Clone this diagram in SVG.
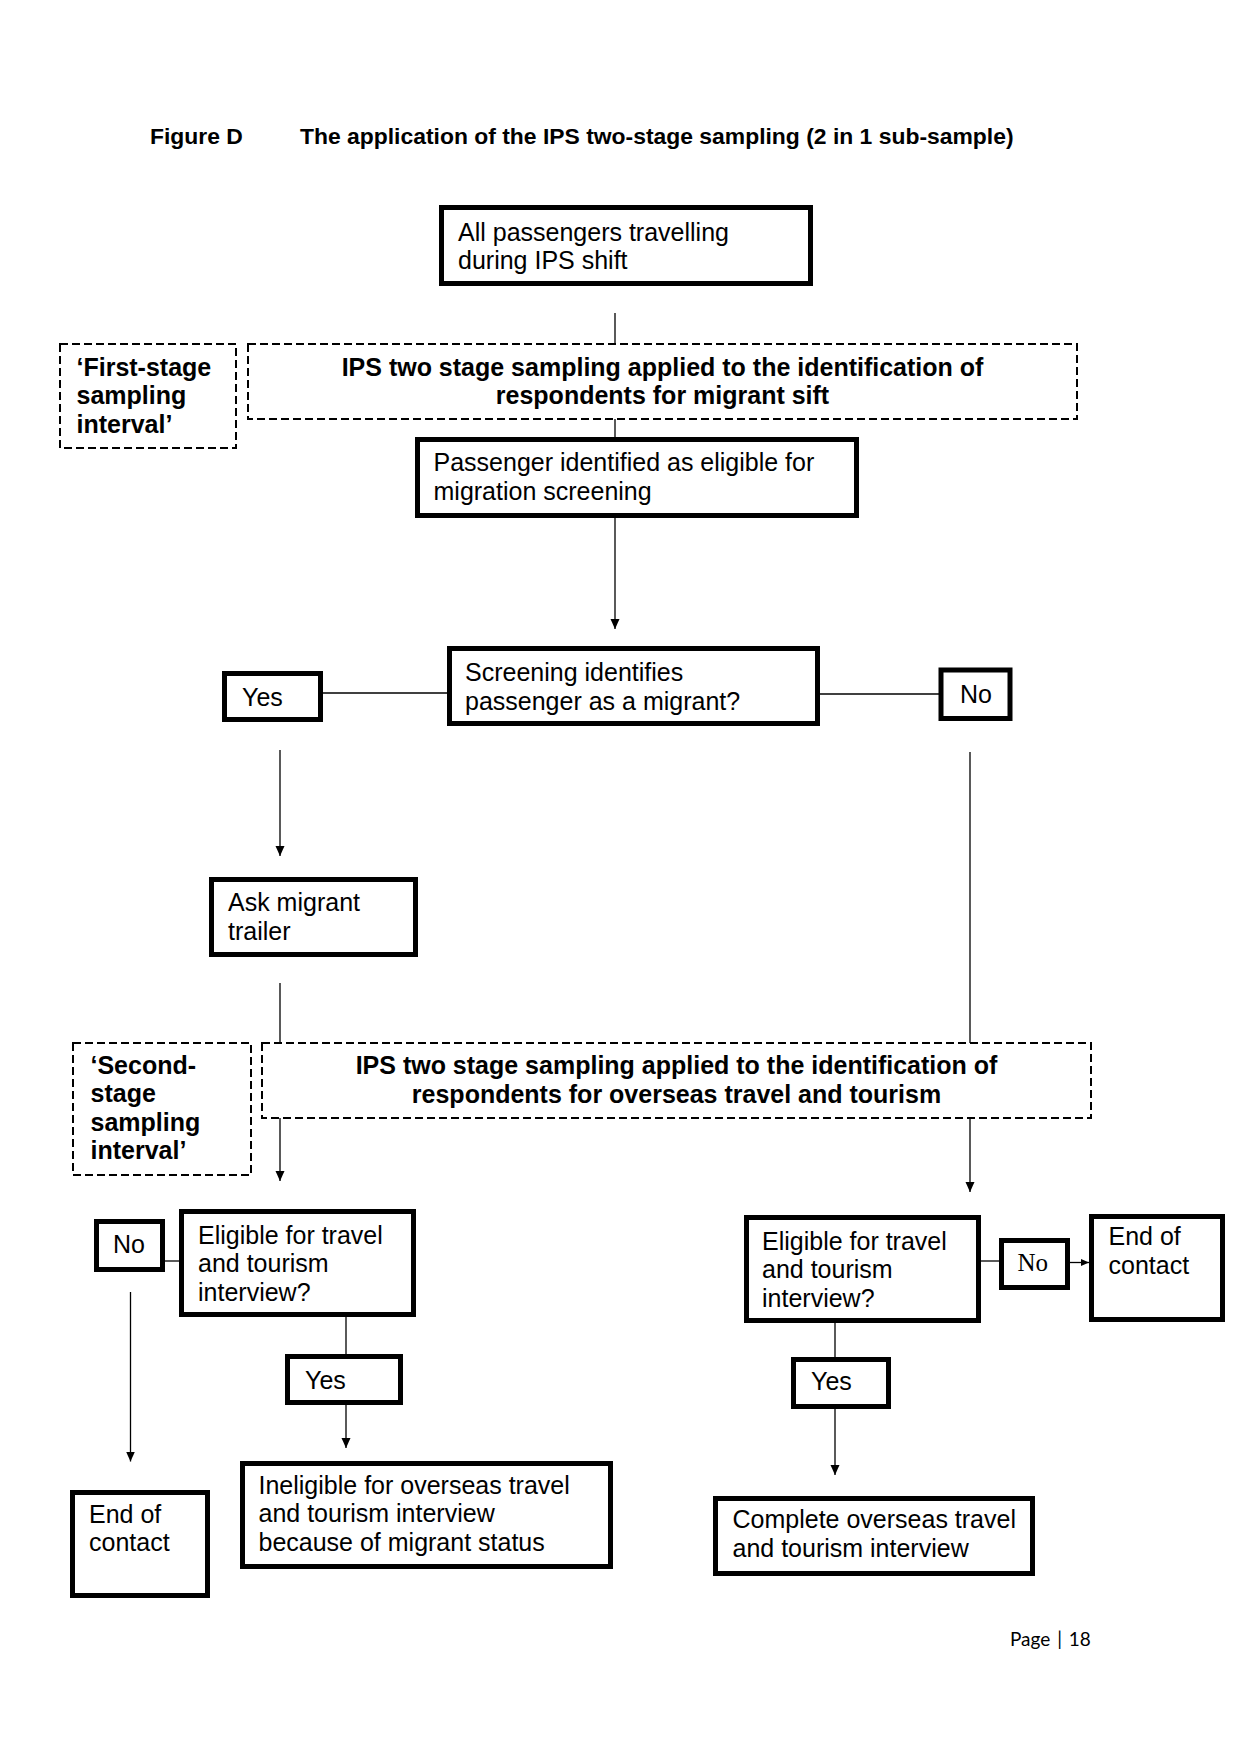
<svg xmlns="http://www.w3.org/2000/svg" width="1240" height="1755" viewBox="0 0 1240 1755">
<style>
.bx{fill:#fff;stroke:#000;stroke-width:5}
.ds{fill:none;stroke:#000;stroke-width:2;stroke-dasharray:8 4}
.t{font-family:"Liberation Sans",Arial,sans-serif;font-size:25px;fill:#000}
.b{font-family:"Liberation Sans",Arial,sans-serif;font-size:25px;font-weight:bold;fill:#000}
.c{stroke:#000;stroke-width:1.3;fill:none}
</style>
<defs>
<marker id="ah" markerUnits="userSpaceOnUse" markerWidth="10" markerHeight="10" refX="10" refY="5" orient="auto"><path d="M0,0.5 L10,5 L0,9.5 z" fill="#000"/></marker>
<marker id="ahs" markerUnits="userSpaceOnUse" markerWidth="8" markerHeight="8" refX="8" refY="4" orient="auto"><path d="M0,0.5 L8,4 L0,7.5 z" fill="#000"/></marker>
</defs>
<rect width="1240" height="1755" fill="#fff"/>
<g id="title">
<text x="150" y="144" style="font-family:'Liberation Sans',Arial,sans-serif;font-size:22.9px;font-weight:bold">Figure D</text>
<text x="300" y="144" style="font-family:'Liberation Sans',Arial,sans-serif;font-size:22.9px;font-weight:bold">The application of the IPS two-stage sampling (2 in 1 sub-sample)</text>
</g>
<g id="connectors">
<line class="c" x1="615" y1="313" x2="615" y2="344"/>
<line class="c" x1="615" y1="419" x2="615" y2="437"/>
<line class="c" x1="615" y1="518" x2="615" y2="629" marker-end="url(#ah)"/>
<line class="c" x1="323" y1="693" x2="447" y2="693"/>
<line class="c" x1="820" y1="694" x2="939" y2="694"/>
<line class="c" x1="280" y1="750" x2="280" y2="856" marker-end="url(#ah)"/>
<line class="c" x1="970" y1="752" x2="970" y2="1043"/>
<line class="c" x1="280" y1="983" x2="280" y2="1043"/>
<line class="c" x1="280" y1="1118" x2="280" y2="1181" marker-end="url(#ah)"/>
<line class="c" x1="970" y1="1118" x2="970" y2="1192" marker-end="url(#ah)"/>
<line class="c" x1="165" y1="1261" x2="179" y2="1261"/>
<line class="c" x1="130.5" y1="1292" x2="130.5" y2="1461.5" marker-end="url(#ah)"/>
<line class="c" x1="346" y1="1317" x2="346" y2="1354"/>
<line class="c" x1="346" y1="1405" x2="346" y2="1448" marker-end="url(#ah)"/>
<line class="c" x1="981" y1="1261" x2="999" y2="1261"/>
<line class="c" x1="1070" y1="1262.5" x2="1089" y2="1262.5" marker-end="url(#ahs)"/>
<line class="c" x1="835" y1="1323" x2="835" y2="1357"/>
<line class="c" x1="835" y1="1409" x2="835" y2="1475" marker-end="url(#ah)"/>
</g>
<g id="n-all">
<rect class="bx" x="441.5" y="207.5" width="369" height="76"/>
<text class="t" x="458" y="240.5">All passengers travelling</text>
<text class="t" x="458" y="269">during IPS shift</text>
</g>
<g id="n-first-stage">
<rect class="ds" x="60" y="344" width="176" height="104"/>
<text class="b" x="76.5" y="375.5">‘First-stage</text>
<text class="b" x="76.5" y="404">sampling</text>
<text class="b" x="76.5" y="432.5">interval’</text>
</g>
<g id="n-migrant-sift">
<rect class="ds" x="248" y="344" width="829" height="75"/>
<text class="b" x="662.5" y="375.5" text-anchor="middle">IPS two stage sampling applied to the identification of</text>
<text class="b" x="662.5" y="403.5" text-anchor="middle">respondents for migrant sift</text>
</g>
<g id="n-eligible-screening">
<rect class="bx" x="417.5" y="439.5" width="439" height="76"/>
<text class="t" x="433.5" y="470.5">Passenger identified as eligible for</text>
<text class="t" x="433.5" y="499.5">migration screening</text>
</g>
<g id="n-screening">
<rect class="bx" x="449.5" y="648.5" width="368" height="75"/>
<text class="t" x="465" y="680.5">Screening identifies</text>
<text class="t" x="465" y="709.5">passenger as a migrant?</text>
</g>
<g id="n-yes1">
<rect class="bx" x="224.5" y="673.5" width="96" height="46"/>
<text class="t" x="242" y="706">Yes</text>
</g>
<g id="n-no1">
<rect class="bx" x="941" y="670" width="69" height="48.5"/>
<text class="t" x="960" y="703">No</text>
</g>
<g id="n-ask-trailer">
<rect class="bx" x="211.5" y="879.5" width="204" height="75"/>
<text class="t" x="228" y="910.5">Ask migrant</text>
<text class="t" x="228" y="939.5">trailer</text>
</g>
<g id="n-second-stage">
<rect class="ds" x="73" y="1043" width="178" height="132"/>
<text class="b" x="90.5" y="1073.5">‘Second-</text>
<text class="b" x="90.5" y="1102">stage</text>
<text class="b" x="90.5" y="1130.5">sampling</text>
<text class="b" x="90.5" y="1159">interval’</text>
</g>
<g id="n-overseas-sift">
<rect class="ds" x="262" y="1043" width="829" height="75"/>
<text class="b" x="676.5" y="1073.5" text-anchor="middle">IPS two stage sampling applied to the identification of</text>
<text class="b" x="676.5" y="1102.5" text-anchor="middle">respondents for overseas travel and tourism</text>
</g>
<g id="n-no2">
<rect class="bx" x="96.5" y="1221.5" width="66" height="48"/>
<text class="t" x="113" y="1253">No</text>
</g>
<g id="n-eligible-left">
<rect class="bx" x="181.5" y="1211.5" width="232" height="103"/>
<text class="t" x="198" y="1243.5">Eligible for travel</text>
<text class="t" x="198" y="1272">and tourism</text>
<text class="t" x="198" y="1300.5">interview?</text>
</g>
<g id="n-yes2">
<rect class="bx" x="287.5" y="1356.5" width="113" height="46"/>
<text class="t" x="305" y="1388.5">Yes</text>
</g>
<g id="n-ineligible">
<rect class="bx" x="242.5" y="1463.5" width="368" height="103"/>
<text class="t" x="258.5" y="1493.5">Ineligible for overseas travel</text>
<text class="t" x="258.5" y="1522">and tourism interview</text>
<text class="t" x="258.5" y="1550.5">because of migrant status</text>
</g>
<g id="n-end-left">
<rect class="bx" x="72.5" y="1492.5" width="135" height="103"/>
<text class="t" x="89" y="1522.5">End of</text>
<text class="t" x="89" y="1551">contact</text>
</g>
<g id="n-eligible-right">
<rect class="bx" x="746.5" y="1217.5" width="232" height="103"/>
<text class="t" x="762" y="1249.5">Eligible for travel</text>
<text class="t" x="762" y="1278">and tourism</text>
<text class="t" x="762" y="1306.5">interview?</text>
</g>
<g id="n-no3">
<rect class="bx" x="1001.5" y="1240.5" width="66" height="47"/>
<text x="1017.5" y="1271" style="font-family:'Liberation Serif','Times New Roman',serif;font-size:25px">No</text>
</g>
<g id="n-end-right">
<rect class="bx" x="1091.5" y="1216.5" width="131" height="103"/>
<text class="t" x="1108.5" y="1245">End of</text>
<text class="t" x="1108.5" y="1273.5">contact</text>
</g>
<g id="n-yes3">
<rect class="bx" x="793.5" y="1359.5" width="95" height="47"/>
<text class="t" x="811" y="1390">Yes</text>
</g>
<g id="n-complete">
<rect class="bx" x="715.5" y="1498.5" width="317" height="75"/>
<text class="t" x="732.5" y="1528">Complete overseas travel</text>
<text class="t" x="732.5" y="1556.5">and tourism interview</text>
</g>
<g id="footer">
<text x="1010" y="1646" style="font-family:Lato,'Liberation Sans',sans-serif;font-size:19px;word-spacing:2px">Page | 18</text>
</g>
</svg>
